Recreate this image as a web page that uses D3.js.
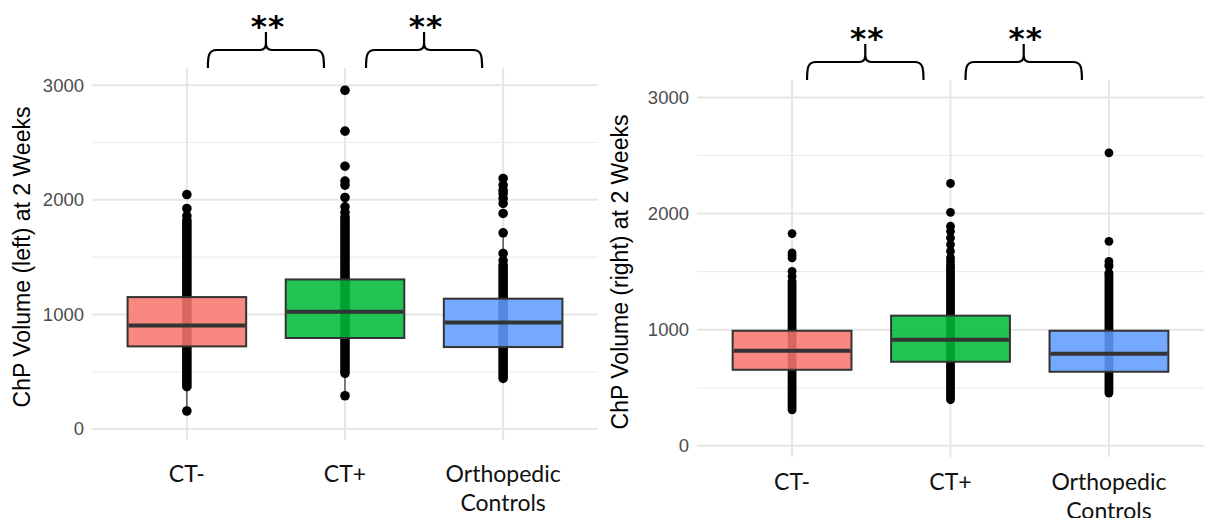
<!DOCTYPE html>
<html>
<head>
<meta charset="utf-8">
<script src="https://cdn.jsdelivr.net/npm/d3@7"></script>
<style>
  body { margin: 0; background: #fff; }
  svg { display: block; }
</style>
</head>
<body>
<svg id="chart" width="1208" height="518"></svg>
<script>
// groups on the x axis
const categories = ["CT-", "CT+", "Orthopedic Controls"];
const categoryLines = [["CT-"], ["CT+"], ["Orthopedic", "Controls"]];
const colors = ["#F8766D", "#00BA38", "#619CFF"];
const majorTicks = [0, 1000, 2000, 3000];
const minorTicks = [500, 1500, 2500];

// left ChP volume (box stats, whiskers, dense point column, single points)
const leftQ1 = [721, 794, 715];
const leftMedian = [904, 1023, 930];
const leftQ3 = [1151, 1305, 1137];
const leftWhiskerLow = [157, 290, 442];
const leftWhiskerHigh = [1790, 2020, 1712];
const leftDenseLow = [369, 486, 442];
const leftDenseHigh = [1822, 1851, 1430];
const leftPoints = [
  [2046, 1924, 1860, 157],
  [2956, 2599, 2293, 2163, 2128, 2020, 1939, 1890, 290],
  [2186, 2128, 2084, 2055, 2012, 1968, 1881, 1712, 1532, 1470]
];

// right ChP volume
const rightQ1 = [655, 724, 638];
const rightMedian = [819, 914, 793];
const rightQ3 = [991, 1121, 991];
const rightWhiskerLow = [310, 397, 454];
const rightWhiskerHigh = [1417, 1675, 1489];
const rightDenseLow = [310, 397, 454];
const rightDenseHigh = [1417, 1560, 1480];
const rightPoints = [
  [1828, 1661, 1640, 1618, 1503, 1460],
  [2259, 2011, 1891, 1847, 1790, 1733, 1675, 1620, 1590],
  [2523, 1761, 1589, 1560, 1546, 1489]
];

const comparisons = [["CT-", "CT+"], ["CT+", "Orthopedic Controls"]];
const significance = ["**", "**"];

const svg = d3.select("#chart");

const drawPanel = (cfg)=>{
  let g = svg.append("g");

  let xScale = d3.scalePoint().domain(categories).range([cfg.left, cfg.right]).padding(0.6);
  let yScale = d3.scaleLinear().domain([-96, 3150]).range([cfg.bottom, cfg.top]);
  let boxW = xScale.step() * 0.75;

  // grid
  g.selectAll(".minor").data(minorTicks).enter().append("line")
    .attr("x1", cfg.left).attr("x2", cfg.right)
    .attr("y1", d=>yScale(d)).attr("y2", d=>yScale(d))
    .attr("stroke", "#EBEBEB").attr("stroke-width", 1.1);
  g.selectAll(".major").data(majorTicks).enter().append("line")
    .attr("x1", cfg.left).attr("x2", cfg.right)
    .attr("y1", d=>yScale(d)).attr("y2", d=>yScale(d))
    .attr("stroke", "#E6E6E6").attr("stroke-width", 2);
  g.selectAll(".vgrid").data(categories).enter().append("line")
    .attr("x1", d=>xScale(d)).attr("x2", d=>xScale(d))
    .attr("y1", cfg.top).attr("y2", cfg.bottom)
    .attr("stroke", "#E6E6E6").attr("stroke-width", 2);

  // y tick labels
  g.selectAll(".ytick").data(majorTicks).enter().append("text")
    .attr("x", cfg.left - 8).attr("y", d=>yScale(d))
    .attr("dy", "0.35em").attr("text-anchor", "end")
    .attr("font-family", "Liberation Sans, Arial, sans-serif")
    .attr("font-size", "18.5px").attr("fill", "#4D4D4D")
    .text(d=>d);

  // y title
  g.append("text")
    .attr("transform", "translate(" + cfg.titleX + "," + cfg.titleY + ") rotate(-90)")
    .attr("text-anchor", "middle")
    .attr("font-family", "Liberation Sans, Arial, sans-serif")
    .attr("font-size", "23px").attr("fill", "#000")
    .text(cfg.title);

  // x labels
  categories.forEach((c, i)=>{
    let t = g.append("text")
      .attr("x", xScale(c)).attr("y", cfg.labelY)
      .attr("text-anchor", "middle")
      .attr("font-family", "Lato, sans-serif")
      .attr("font-size", "23px").attr("fill", "#111");
    categoryLines[i].forEach((line, k)=>{
      t.append("tspan").attr("x", xScale(c)).attr("dy", k == 0 ? 0 : 28.5).text(line);
    });
  });

  // whiskers
  g.selectAll(".whisker").data(categories).enter().append("line")
    .attr("x1", d=>xScale(d)).attr("x2", d=>xScale(d))
    .attr("y1", (d, i)=>yScale(cfg.whiskerLow[i])).attr("y2", (d, i)=>yScale(cfg.whiskerHigh[i]))
    .attr("stroke", "#222").attr("stroke-width", 1.1);

  // dense point columns
  g.selectAll(".dense").data(categories).enter().append("line")
    .attr("x1", d=>xScale(d)).attr("x2", d=>xScale(d))
    .attr("y1", (d, i)=>yScale(cfg.denseLow[i])).attr("y2", (d, i)=>yScale(cfg.denseHigh[i]))
    .attr("stroke", "#000").attr("stroke-width", cfg.r * 2).attr("stroke-linecap", "round");

  // single points
  categories.forEach((c, i)=>{
    g.selectAll(".pt" + i).data(cfg.points[i]).enter().append("circle")
      .attr("cx", xScale(c)).attr("cy", d=>yScale(d)).attr("r", cfg.r)
      .attr("fill", "#000");
  });

  // boxes
  g.selectAll(".box").data(categories).enter().append("rect")
    .attr("x", d=>xScale(d) - boxW / 2).attr("width", boxW)
    .attr("y", (d, i)=>yScale(cfg.q3[i]))
    .attr("height", (d, i)=>yScale(cfg.q1[i]) - yScale(cfg.q3[i]))
    .attr("fill", (d, i)=>colors[i]).attr("fill-opacity", 0.87)
    .attr("stroke", "#333").attr("stroke-width", 2);
  g.selectAll(".median").data(categories).enter().append("line")
    .attr("x1", d=>xScale(d) - boxW / 2 + 1).attr("x2", d=>xScale(d) + boxW / 2 - 1)
    .attr("y1", (d, i)=>yScale(cfg.median[i])).attr("y2", (d, i)=>yScale(cfg.median[i]))
    .attr("stroke", "#333").attr("stroke-width", 4);

  // significance braces
  comparisons.forEach((pair, i)=>{
    let x1 = xScale(pair[0]) + 21 + cfg.braceShift;
    let x2 = xScale(pair[1]) - 21 + cfg.braceShift;
    let xm = (x1 + x2) / 2;
    let yTip = cfg.top, yBar = cfg.top - 18, yCusp = cfg.top - 36;
    let p = d3.path();
    p.moveTo(x1, yTip);
    p.bezierCurveTo(x1, yBar + 5, x1 + 1, yBar, x1 + 9, yBar);
    p.lineTo(xm - 6, yBar);
    p.quadraticCurveTo(xm, yBar, xm, yBar - 7);
    p.lineTo(xm, yCusp);
    p.moveTo(xm, yBar - 7);
    p.quadraticCurveTo(xm, yBar, xm + 6, yBar);
    p.lineTo(x2 - 9, yBar);
    p.bezierCurveTo(x2 - 1, yBar, x2, yBar + 5, x2, yTip);
    g.append("path").attr("d", p.toString())
      .attr("fill", "none").attr("stroke", "#000").attr("stroke-width", 2.2);
    g.append("text")
      .attr("x", xm + 2).attr("y", cfg.top - 31)
      .attr("text-anchor", "middle")
      .attr("letter-spacing", "1px")
      .attr("font-family", "DejaVu Sans, sans-serif").attr("font-weight", "bold")
      .attr("font-size", "31px").attr("fill", "#000")
      .text(significance[i]);
  });
}

window.onload = function(){
  drawPanel({
    left: 92, right: 598, top: 68, bottom: 440,
    title: "ChP Volume (left) at 2 Weeks", titleX: 30, titleY: 257,
    labelY: 482, braceShift: 0, r: 4.8,
    q1: leftQ1, median: leftMedian, q3: leftQ3,
    whiskerLow: leftWhiskerLow, whiskerHigh: leftWhiskerHigh,
    denseLow: leftDenseLow, denseHigh: leftDenseHigh, points: leftPoints
  });
  drawPanel({
    left: 697, right: 1204, top: 80, bottom: 457,
    title: "ChP Volume (right) at 2 Weeks", titleX: 628, titleY: 272,
    labelY: 490, braceShift: -6, r: 4.4,
    q1: rightQ1, median: rightMedian, q3: rightQ3,
    whiskerLow: rightWhiskerLow, whiskerHigh: rightWhiskerHigh,
    denseLow: rightDenseLow, denseHigh: rightDenseHigh, points: rightPoints
  });
}
</script>
</body>
</html>
